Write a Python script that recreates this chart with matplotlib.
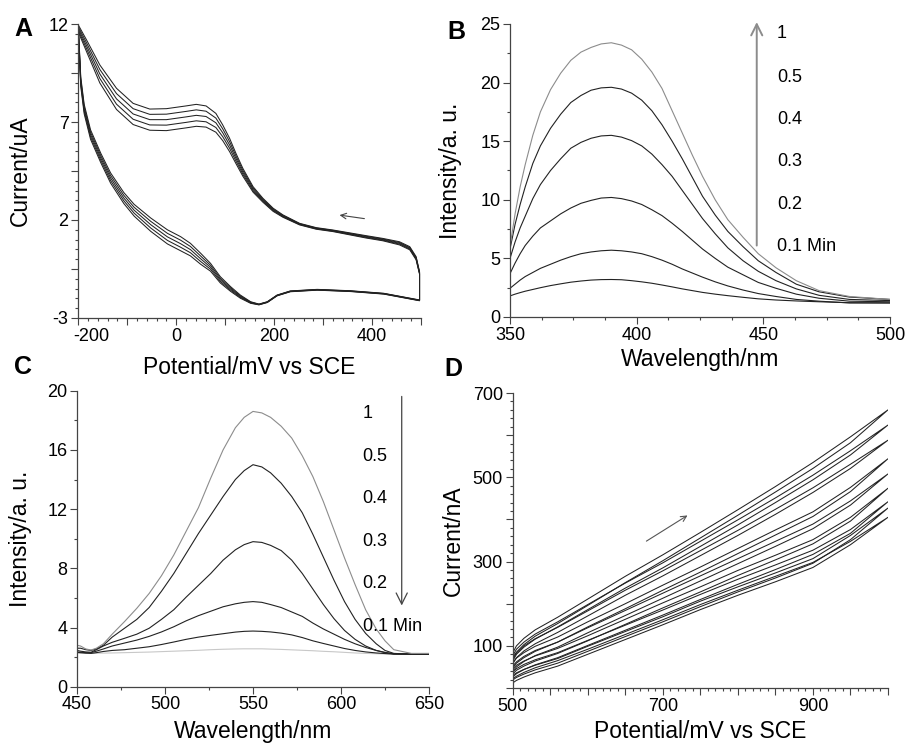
import matplotlib
matplotlib.use("Agg")
import matplotlib.pyplot as plt
from matplotlib.ticker import MultipleLocator, FixedLocator, FuncFormatter
from matplotlib.transforms import ScaledTranslation

plt.rcParams["font.family"] = ["Liberation Sans", "DejaVu Sans"]

# %% data -------------------------------------------------------------------
# A: cyclic voltammograms, 5 cycles (lower branch -200 -> 497, upper 497 -> -200)
A_low_mv = [-200, -195, -188, -175, -154, -134, -107, -86, -52, -18, 9, 29, 50,
            70, 90, 111, 131, 152, 169, 186, 206, 233, 288, 356, 424, 497]
A_low = [
    [11.90, 9.30, 7.90, 6.60, 5.40, 4.40, 3.40, 2.80, 2.10, 1.50, 1.15, 0.81, 0.30,
     -0.21, -0.89, -1.40, -1.83, -2.17, -2.29, -2.17, -1.83, -1.62, -1.54, -1.61, -1.74, -2.08],
    [11.82, 9.18, 7.78, 6.48, 5.28, 4.27, 3.26, 2.65, 1.93, 1.32, 0.97, 0.65, 0.16,
     -0.31, -0.97, -1.46, -1.87, -2.19, -2.30, -2.18, -1.84, -1.63, -1.55, -1.62, -1.75, -2.09],
    [11.74, 9.06, 7.66, 6.36, 5.16, 4.14, 3.12, 2.50, 1.76, 1.14, 0.79, 0.49, 0.02,
     -0.41, -1.05, -1.52, -1.91, -2.21, -2.31, -2.19, -1.85, -1.64, -1.56, -1.63, -1.76, -2.10],
    [11.66, 8.94, 7.54, 6.24, 5.04, 4.01, 2.98, 2.35, 1.59, 0.96, 0.61, 0.33, -0.12,
     -0.51, -1.13, -1.58, -1.95, -2.23, -2.32, -2.20, -1.86, -1.65, -1.57, -1.64, -1.77, -2.11],
    [11.58, 8.82, 7.42, 6.12, 4.92, 3.88, 2.84, 2.20, 1.42, 0.78, 0.43, 0.17, -0.26,
     -0.61, -1.21, -1.64, -1.99, -2.25, -2.33, -2.21, -1.87, -1.66, -1.58, -1.65, -1.78, -2.12],
]
A_up_mv = [497, 497, 490, 477, 456, 422, 388, 320, 286, 252, 218, 198, 177, 157, 136,
           122, 109, 95, 81, 61, 41, 20, -20, -54, -88, -122, -156, -183, -200]
A_up = [
    [-2.08, -0.64, 0.13, 0.64, 0.89, 1.06, 1.20, 1.49, 1.61, 1.83, 2.26, 2.60, 3.11, 3.70, 4.64,
     5.40, 6.17, 6.85, 7.44, 7.82, 7.90, 7.82, 7.68, 7.66, 7.95, 8.72, 9.91, 11.18, 11.95],
    [-2.09, -0.67, 0.09, 0.60, 0.85, 1.03, 1.17, 1.47, 1.59, 1.81, 2.23, 2.56, 3.06, 3.63, 4.54,
     5.27, 6.00, 6.65, 7.20, 7.55, 7.62, 7.54, 7.40, 7.39, 7.68, 8.45, 9.68, 11.03, 11.86],
    [-2.10, -0.70, 0.05, 0.56, 0.81, 1.00, 1.14, 1.45, 1.57, 1.79, 2.20, 2.52, 3.01, 3.56, 4.44,
     5.14, 5.83, 6.45, 6.96, 7.28, 7.34, 7.26, 7.12, 7.12, 7.41, 8.18, 9.45, 10.88, 11.77],
    [-2.11, -0.73, 0.01, 0.52, 0.77, 0.97, 1.11, 1.43, 1.55, 1.77, 2.17, 2.48, 2.96, 3.49, 4.34,
     5.01, 5.66, 6.25, 6.72, 7.01, 7.06, 6.98, 6.84, 6.85, 7.14, 7.91, 9.22, 10.73, 11.68],
    [-2.12, -0.76, -0.03, 0.48, 0.73, 0.94, 1.08, 1.41, 1.53, 1.75, 2.14, 2.44, 2.91, 3.42, 4.24,
     4.88, 5.49, 6.05, 6.48, 6.74, 6.78, 6.70, 6.56, 6.58, 6.87, 7.64, 8.99, 10.58, 11.59],
]

# B: emission spectra, 0.1 ... 1 min
B_nm = [350, 352, 354, 356, 359, 362, 366, 370, 374, 378, 382, 386, 390, 394, 398, 402,
        406, 410, 414, 418, 422, 426, 431, 436, 442, 448, 455, 463, 472, 484, 500]
B_labels = ["0.1 Min", "0.2", "0.3", "0.4", "0.5", "1"]
B_int = [
    [1.8, 1.95, 2.08, 2.2, 2.35, 2.5, 2.68, 2.83, 2.97, 3.07, 3.15, 3.19, 3.2, 3.18, 3.1, 3.0,
     2.88, 2.73, 2.57, 2.4, 2.25, 2.1, 1.95, 1.82, 1.68, 1.55, 1.45, 1.37, 1.3, 1.22, 1.2],
    [2.45, 2.8, 3.15, 3.45, 3.8, 4.15, 4.5, 4.85, 5.15, 5.4, 5.55, 5.65, 5.7, 5.65, 5.55, 5.4,
     5.15, 4.85, 4.5, 4.1, 3.75, 3.4, 3.0, 2.65, 2.3, 2.0, 1.75, 1.5, 1.35, 1.2, 1.2],
    [3.7, 4.6, 5.4, 6.1, 6.9, 7.6, 8.2, 8.8, 9.3, 9.7, 9.95, 10.15, 10.2, 10.1, 9.9, 9.6,
     9.15, 8.65, 8.0, 7.3, 6.55, 5.8, 5.0, 4.25, 3.6, 2.95, 2.45, 1.95, 1.6, 1.35, 1.3],
    [5.0, 6.4, 7.6, 8.6, 10.1, 11.3, 12.5, 13.5, 14.4, 14.9, 15.25, 15.45, 15.5, 15.35, 15.05, 14.6,
     13.9, 13.0, 12.0, 10.8, 9.6, 8.4, 7.1, 5.9, 4.8, 3.9, 3.1, 2.4, 1.85, 1.5, 1.4],
    [5.8, 7.9, 9.6, 11.1, 13.1, 14.6, 16.1, 17.3, 18.3, 18.9, 19.35, 19.55, 19.6, 19.45, 19.1, 18.5,
     17.6, 16.4, 15.0, 13.5, 11.9, 10.3, 8.7, 7.3, 6.0, 4.8, 3.8, 2.8, 2.15, 1.7, 1.5],
    [6.0, 8.8, 11.1, 13.0, 15.5, 17.5, 19.4, 20.8, 21.9, 22.6, 23.0, 23.3, 23.4, 23.2, 22.8, 22.0,
     20.9, 19.5, 17.6, 15.7, 13.8, 12.0, 10.0, 8.3, 6.8, 5.4, 4.2, 3.1, 2.25, 1.75, 1.5],
]
B_label_y = [6.0, 9.64, 13.25, 16.87, 20.45, 24.2]

# C: emission spectra, 0.1 ... 1 min
C_nm = [450, 452, 455, 458, 461, 465, 470, 477, 484, 491, 498, 505, 512, 519, 526, 533, 540,
        545, 550, 555, 560, 566, 572, 578, 584, 590, 596, 602, 608, 614, 620, 625, 630, 640, 650]
C_labels = ["0.1 Min", "0.2", "0.3", "0.4", "0.5", "1"]
C_int = [
    [2.25, 2.25, 2.25, 2.25, 2.26, 2.27, 2.28, 2.3, 2.32, 2.34, 2.37, 2.4, 2.43, 2.46, 2.5, 2.53, 2.55,
     2.56, 2.56, 2.56, 2.54, 2.52, 2.49, 2.46, 2.43, 2.39, 2.36, 2.32, 2.28, 2.25, 2.23, 2.21, 2.2, 2.2, 2.2],
    [2.33, 2.3, 2.27, 2.25, 2.3, 2.38, 2.45, 2.5, 2.6, 2.7, 2.85, 3.02, 3.2, 3.35, 3.47, 3.58, 3.69,
     3.74, 3.76, 3.74, 3.7, 3.62, 3.5, 3.32, 3.1, 2.92, 2.75, 2.58, 2.45, 2.35, 2.28, 2.24, 2.2, 2.2, 2.2],
    [2.33, 2.33, 2.3, 2.3, 2.4, 2.55, 2.75, 2.95, 3.15, 3.4, 3.7, 4.05, 4.45, 4.8, 5.1, 5.4, 5.6,
     5.7, 5.75, 5.7, 5.55, 5.35, 5.05, 4.75, 4.3, 3.9, 3.55, 3.2, 2.9, 2.65, 2.45, 2.32, 2.22, 2.2, 2.2],
    [2.45, 2.4, 2.35, 2.33, 2.5, 2.75, 3.0, 3.27, 3.55, 3.95, 4.55, 5.2, 6.05, 6.85, 7.65, 8.55, 9.25,
     9.6, 9.8, 9.75, 9.55, 9.2, 8.55, 7.65, 6.6, 5.55, 4.6, 3.8, 3.2, 2.75, 2.45, 2.3, 2.22, 2.2, 2.2],
    [2.6, 2.6, 2.5, 2.45, 2.55, 2.8, 3.35, 3.95, 4.55, 5.35, 6.45, 7.65, 9.0, 10.35, 11.6, 12.85, 14.0,
     14.6, 15.0, 14.85, 14.45, 13.75, 12.85, 11.75, 10.3, 8.75, 7.2, 5.75, 4.55, 3.6, 2.9, 2.45, 2.25, 2.2, 2.2],
    [2.8, 2.75, 2.55, 2.48, 2.6, 2.9, 3.55, 4.4, 5.3, 6.3, 7.5, 8.9, 10.5, 12.1, 14.1, 16.0, 17.5,
     18.2, 18.6, 18.5, 18.2, 17.6, 16.8, 15.6, 14.2, 12.5, 10.6, 8.7, 6.9, 5.2, 3.9, 3.1, 2.5, 2.25, 2.25],
]
C_label_y = [4.05, 6.94, 9.8, 12.73, 15.54, 18.47]

# D: repeated scans, forward (up) and return (low) branches
D_mv = [500, 505, 515, 530, 560, 600, 650, 700, 750, 800, 850, 900, 950, 1000]
D_up = [
    [83, 100, 118, 138, 168, 211, 265, 316, 369, 423, 478, 535, 596, 660],
    [76, 92, 109, 128, 157, 198, 249, 297, 348, 399, 451, 505, 563, 624],
    [68, 83, 100, 117, 144, 183, 232, 278, 326, 374, 424, 475, 531, 588],
    [60, 71, 84, 99, 121, 157, 200, 244, 287, 331, 375, 418, 476, 544],
    [52, 62, 75, 89, 109, 143, 184, 225, 266, 307, 348, 389, 444, 508],
    [45, 54, 64, 76, 94, 124, 163, 202, 240, 279, 315, 352, 405, 474],
    [38, 46, 56, 67, 84, 113, 149, 185, 222, 258, 292, 327, 376, 442],
    [30, 36, 44, 54, 70, 99, 134, 169, 206, 240, 273, 307, 362, 427],
    [22, 28, 37, 48, 65, 92, 127, 162, 198, 232, 265, 298, 348, 405],
]
D_low = [
    [72, 85, 103, 123, 153, 196, 250, 302, 356, 410, 465, 521, 582, 660],
    [64, 80, 97, 116, 145, 186, 237, 285, 336, 387, 440, 494, 553, 624],
    [57, 72, 88, 105, 132, 171, 220, 266, 314, 362, 412, 464, 521, 588],
    [48, 59, 72, 87, 109, 145, 188, 232, 275, 319, 363, 407, 466, 544],
    [40, 50, 63, 77, 97, 131, 172, 213, 254, 295, 336, 378, 434, 508],
    [33, 42, 52, 64, 82, 112, 151, 190, 228, 267, 304, 342, 396, 474],
    [26, 34, 44, 55, 72, 101, 137, 173, 210, 246, 281, 317, 367, 442],
    [19, 25, 33, 43, 59, 87, 122, 157, 193, 228, 261, 296, 352, 427],
    [12, 18, 26, 36, 52, 80, 115, 150, 186, 220, 252, 286, 340, 405],
]

# %% figure -----------------------------------------------------------------
W, H = 909, 744
fig = plt.figure(figsize=(W / 100, H / 100), dpi=100)


def add_axes(left, top, right, bottom):
    return fig.add_axes([left / W, 1 - bottom / H, (right - left) / W, (bottom - top) / H])


def style(ax):
    for s in ("top", "right"):
        ax.spines[s].set_visible(False)
    for s in ("left", "bottom"):
        ax.spines[s].set_color("#444444")
        ax.spines[s].set_linewidth(0.9)
    ax.tick_params(which="both", direction="out", color="#444444", width=0.8,
                   labelsize=13, pad=2)
    ax.tick_params(which="major", length=5)
    ax.tick_params(which="minor", length=2.5)


def only(vals):
    return FuncFormatter(lambda v, p: f"{v:.0f}" if any(abs(v - k) < 1e-6 for k in vals) else "")


LINE = "#222222"
GRAY = "#8c8c8c"

# A
axA = add_axes(78.3, 24, 421, 318)
style(axA)
for lo, up in zip(A_low, A_up):
    axA.plot(A_low_mv + A_up_mv, lo + up, color=LINE, lw=0.75)
axA.set_xlim(-200, 500)
axA.set_ylim(-3, 12)
axA.xaxis.set_major_locator(MultipleLocator(100))
axA.xaxis.set_major_formatter(only((-200, 0, 200, 400)))
axA.xaxis.set_minor_locator(MultipleLocator(20))
axA.yaxis.set_major_locator(FixedLocator([-3, -0.5, 2, 4.5, 7, 9.5, 12]))
axA.yaxis.set_major_formatter(only((-3, 2, 7, 12)))
axA.yaxis.set_minor_locator(MultipleLocator(0.5))
axA.annotate("", xy=(328, 2.27), xytext=(390, 2.05),
             arrowprops=dict(arrowstyle="->", color="#444444", lw=0.8))
axA.set_xlabel("Potential/mV vs SCE", fontsize=16.5, labelpad=8)
axA.set_ylabel("Current/uA", fontsize=16.5, labelpad=12)

# B
axB = add_axes(510, 24, 890, 317)
style(axB)
for i, y in enumerate(B_int):
    axB.plot(B_nm, y, color=GRAY if i == len(B_int) - 1 else LINE, lw=0.8)
axB.set_xlim(350, 500)
axB.set_ylim(0, 25)
axB.xaxis.set_major_locator(MultipleLocator(50))
axB.xaxis.set_minor_locator(MultipleLocator(12.5))
axB.yaxis.set_major_locator(MultipleLocator(5))
axB.yaxis.set_minor_locator(MultipleLocator(2.5))
axB.annotate("", xy=(447.4, 25.4), xytext=(447.4, 5.86), annotation_clip=False,
             arrowprops=dict(arrowstyle="->", color=GRAY, lw=1.4, mutation_scale=20))
for lab, yy in zip(B_labels, B_label_y):
    axB.text(455.3, yy, lab, fontsize=13, ha="left", va="center")
axB.set_xlabel("Wavelength/nm", fontsize=16.5, labelpad=3)
axB.set_ylabel("Intensity/a. u.", fontsize=16.5, labelpad=13)

# C
axC = add_axes(77, 390.7, 429, 686.7)
style(axC)
for i, y in enumerate(C_int):
    col = "#c8c8c8" if i == 0 else (GRAY if i == len(C_int) - 1 else LINE)
    axC.plot(C_nm, y, color=col, lw=0.8)
axC.set_xlim(450, 650)
axC.set_ylim(0, 20)
axC.xaxis.set_major_locator(MultipleLocator(50))
axC.xaxis.set_minor_locator(MultipleLocator(25))
axC.yaxis.set_major_locator(MultipleLocator(4))
axC.yaxis.set_minor_locator(MultipleLocator(2))
axC.annotate("", xy=(634.5, 5.3), xytext=(634.5, 19.8),
             arrowprops=dict(arrowstyle="->", color="#444444", lw=0.9, mutation_scale=20))
for lab, yy in zip(C_labels, C_label_y):
    axC.text(612.3, yy, lab, fontsize=13, ha="left", va="center")
axC.set_xlabel("Wavelength/nm", fontsize=16.5, labelpad=5)
axC.set_ylabel("Intensity/a. u.", fontsize=16.5, labelpad=11)

# D
axD = add_axes(512.7, 393, 888, 688)
style(axD)
for up, lo in zip(D_up, D_low):
    axD.plot(D_mv + D_mv[::-1] + D_mv[:1], up + lo[::-1] + up[:1], color=LINE, lw=0.75)
axD.set_xlim(500, 1000)
axD.set_ylim(0, 700)
axD.xaxis.set_major_locator(MultipleLocator(50))
axD.xaxis.set_major_formatter(only((500, 700, 900)))
axD.xaxis.set_minor_locator(MultipleLocator(10))
axD.yaxis.set_major_locator(MultipleLocator(100))
axD.yaxis.set_major_formatter(only((100, 300, 500, 700)))
axD.yaxis.set_minor_locator(MultipleLocator(20))
axD.annotate("", xy=(736, 413), xytext=(675, 345),
             arrowprops=dict(arrowstyle="->", color="#555555", lw=0.8))
axD.set_xlabel("Potential/mV vs SCE", fontsize=16.5, labelpad=4)
axD.set_ylabel("Current/nA", fontsize=16.5, labelpad=6)

# panel letters
for lab, x, y in (("A", 14, 17), ("B", 447, 20), ("C", 14, 355), ("D", 444, 357)):
    fig.text(x / W, 1 - y / H, lab, fontsize=18, fontweight="bold", ha="left", va="top")

# the -200 label sits a little right of its tick in the original
fig.canvas.draw()
shift = ScaledTranslation(0.13, 0, fig.dpi_scale_trans)
for lbl in axA.get_xticklabels():
    if lbl.get_text() == "-200":
        lbl.set_transform(lbl.get_transform() + shift)

fig.savefig("out.png", dpi=100)
